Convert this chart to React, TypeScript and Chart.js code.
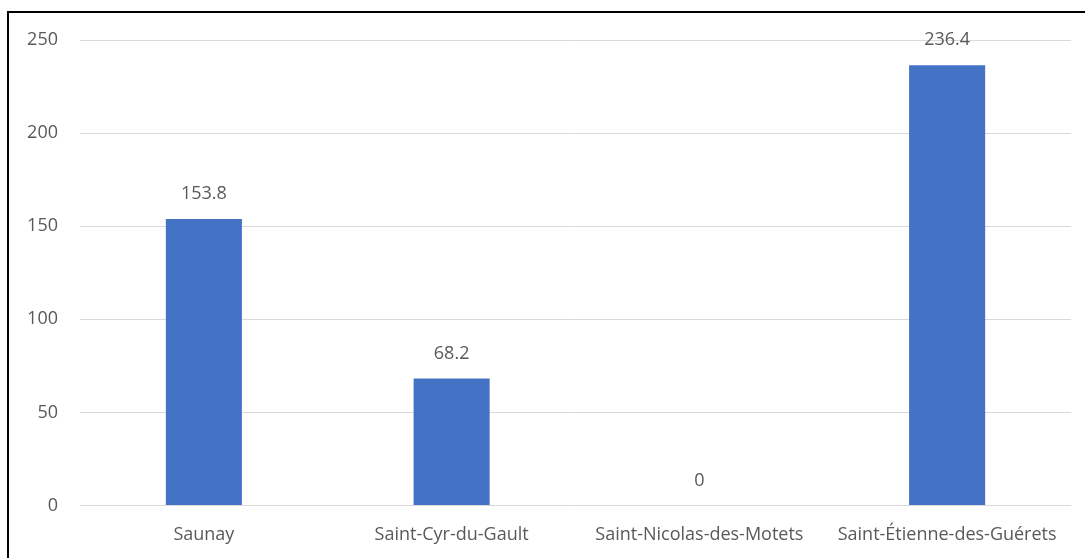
import React, { useEffect, useRef } from "react";
import { Chart, registerables } from "chart.js";

Chart.register(...registerables);

const categories = ["Saunay", "Saint-Cyr-du-Gault", "Saint-Nicolas-des-Motets", "Saint-Étienne-des-Guérets"];
const values = [153.8, 68.2, 0, 236.4];
const valueLabels = ["153.8", "68.2", "0", "236.4"];
const yTicks = [0, 50, 100, 150, 200, 250];

const FONT = "'Open Sans', 'Noto Sans', sans-serif";
const TEXT_COLOR = "#595959";
const FONT_SIZE = 18;

const dataLabelPlugin = {
  id: "dataLabels",
  afterDatasetsDraw(chart: any) {
    const ctx = chart.ctx;
    const meta = chart.getDatasetMeta(0);
    ctx.save();
    ctx.font = `${FONT_SIZE}px ${FONT}`;
    ctx.fillStyle = TEXT_COLOR;
    ctx.textAlign = "center";
    ctx.textBaseline = "middle";
    meta.data.forEach((bar: any, i: number) => {
      ctx.fillText(valueLabels[i], bar.x, bar.y - 25);
    });
    ctx.restore();
  },
};

export default function App() {
  const ref = useRef<HTMLCanvasElement | null>(null);
  useEffect(() => {
    if (!ref.current) return;
    const chart = new Chart(ref.current, {
      type: "bar",
      data: {
        labels: categories,
        datasets: [
          {
            data: values,
            backgroundColor: "#4472C4",
            borderWidth: 0,
            barPercentage: 0.307,
            categoryPercentage: 1,
          },
        ],
      },
      options: {
        responsive: false,
        animation: false,
        devicePixelRatio: 1,
        layout: { padding: { left: 0, top: 40, right: 14, bottom: 0 } },
        plugins: { legend: { display: false }, tooltip: { enabled: false } },
        scales: {
          x: {
            grid: { display: false, drawTicks: false },
            border: { display: false },
            ticks: {
              color: TEXT_COLOR,
              font: { family: FONT, size: FONT_SIZE },
              padding: 19,
              maxRotation: 0,
              autoSkip: false,
            },
            afterFit: (s: any) => {
              s.height = 52.5;
            },
          },
          y: {
            min: 0,
            max: 250,
            afterBuildTicks: (s: any) => {
              s.ticks = yTicks.map((v) => ({ value: v }));
            },
            grid: { color: "#d9d9d9", lineWidth: 1, drawTicks: false },
            border: { display: false },
            ticks: {
              color: TEXT_COLOR,
              font: { family: FONT, size: FONT_SIZE },
              padding: 22,
            },
            afterFit: (s: any) => {
              s.width = 80;
            },
          },
        },
      },
      plugins: [dataLabelPlugin],
    });
    return () => chart.destroy();
  }, []);

  return (
    <div
      style={{
        position: "absolute",
        left: 0,
        top: 0,
        width: 1085,
        height: 558,
        overflow: "hidden",
        background: "#ffffff",
      }}
    >
      <div
        style={{
          position: "absolute",
          left: 7,
          top: 11,
          width: 1200,
          height: 700,
          border: "2px solid #000000",
          boxSizing: "border-box",
        }}
      />
      <canvas ref={ref} width={1085} height={558} style={{ position: "absolute", left: 0, top: 0 }} />
    </div>
  );
}
